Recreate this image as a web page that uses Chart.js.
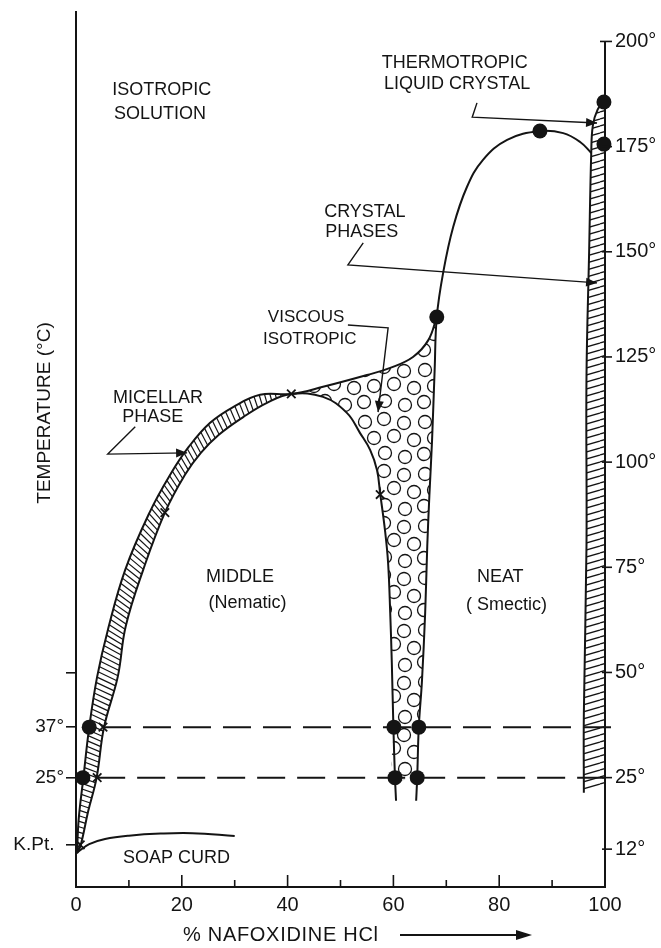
<!DOCTYPE html>
<html><head><meta charset="utf-8">
<script src="https://cdn.jsdelivr.net/npm/chart.js@4/dist/chart.umd.min.js"></script>
<style>html,body{margin:0;padding:0;background:#fff;}canvas{display:block;}</style>
</head><body>
<canvas id="c" width="661" height="948"></canvas>
<script>
// ---------------- DATA ----------------
// x = % nafoxidine HCl, y = temperature (°C)
const micellarOuter = [[0.2,7],[0.5,15],[1.4,25],[2.5,37],[4,49],[6,60],[9.3,74.4],[13.9,88],[17.8,97],[21.3,103.6],[25.3,109.3],[29.7,113.1],[34.8,116.0],[40.7,116.2]];
const micellarInner = [[0.2,7],[0.9,9],[2.3,17],[3.9,25],[5.3,37],[7.9,49],[9.4,61],[12.7,74.4],[16.8,88],[20.6,97],[23.6,102.2],[27.0,106.5],[31.6,110.7],[36.1,114.1],[40.7,116.2]];
const viscousLeft   = [[40.7,116.2],[46.7,115.5],[51.2,111.7],[53.7,106.9],[55.6,102.9],[56.9,98.1],[57.5,92.5],[58.4,83.9],[59.0,76.0],[59.4,64.1],[59.7,52.3],[60.0,37],[60.3,25],[60.5,19.5]];
const viscousUpper  = [[40.7,116.2],[46.7,117.9],[55.0,120.7],[59.4,122.4],[63.7,125.0],[66.6,129],[68.2,134.5]];
const neatRight     = [[64.3,19.5],[64.5,25],[64.8,37],[65.4,48],[66.0,64],[66.4,80],[66.8,92],[67.3,105],[67.8,122],[68.2,134.5]];
const neatTop       = [[68.2,134.5],[69.4,145],[71.3,155.9],[73.9,165.4],[76.9,171.8],[81.5,176.6],[87.7,178.7],[92.1,178.2],[95.3,176.1],[97.4,173.5]];
const bandLeft      = [[96,21.4],[96.0,40],[96.5,80],[96.5,120],[97.0,150],[97.4,173.5],[97.7,180],[98.6,183.8],[99.8,185.6]];
const bandRight     = [[100,185.6],[100,22.8]];
const soapCurd      = [[0.3,7.3],[2.5,9.2],[5.5,10.4],[10,11.2],[16,11.7],[22,11.8],[30,11.1]];
const line37        = [[5.1,37],[101.5,37]];
const line25        = [[4,25],[100,25]];
const dataPoints    = [[1.3,25],[2.5,37],[60.1,37],[64.8,37],[60.3,25],[64.5,25],[68.2,134.5],[87.7,178.7],[99.8,185.6],[99.8,175.6]];
const crossPoints   = [[0.8,9],[4,25],[5.1,37],[16.8,88],[40.7,116.2],[57.5,92.3]];

const xTickValues     = [0,20,40,60,80,100];
const xTickLabels     = ['0','20','40','60','80','100'];
const xMinorTicks     = [10,30,50,70,90];
const xMajorInner     = [20,40,60,80];
const leftTickValues  = [50,37,25,9];
const leftTickLabels  = ['','37°','25°','K.Pt.\u2002'];
const rightTickValues = [200,175,150,125,100,75,50,25,8];
const rightTickLabels = ['200°','175°','150°','125°','100°','75°','50°','25°','12°'];

const xTitle = '% NAFOXIDINE HCl';
const yTitle = 'TEMPERATURE (°C)';

// region / annotation text (data coordinates)
const regionLabels = [
  {t:'ISOTROPIC', x:16.2, y:188.4}, {t:'SOLUTION', x:15.9, y:182.7},
  {t:'THERMOTROPIC', x:57.8, y:194.9, a:'left'}, {t:'LIQUID CRYSTAL', x:58.2, y:189.9, a:'left'},
  {t:'CRYSTAL', x:54.6, y:159.5}, {t:'PHASES', x:54.0, y:154.7},
  {t:'MICELLAR', x:15.5, y:115.2}, {t:'PHASE', x:14.5, y:110.7},
  {t:'VISCOUS', x:43.5, y:134.5, s:17}, {t:'ISOTROPIC', x:44.2, y:129.3, s:17},
  {t:'MIDDLE', x:31.0, y:72.7}, {t:'(Nematic)', x:32.4, y:66.5},
  {t:'NEAT', x:80.2, y:72.7}, {t:'( Smectic)', x:81.4, y:66.0},
  {t:'SOAP CURD', x:19.0, y:6.0}
];
const leaders = [
  [[75.8,185.4],[74.9,182.0],[98.5,180.6]],
  [[54.3,152.1],[51.4,146.9],[98.5,142.6]],
  [[11.2,108.4],[6.0,101.9],[21.0,102.2]],
  [[51.4,132.6],[59.0,131.9],[57.1,111.9]]
];

// ---------------- helpers ----------------
const INK = '#141414';
const pts = a => a.map(([x,y]) => ({x, y}));
// join point lists; duplicated joint points keep sharp corners in a smoothed polygon
function polygon(...lists) {
  const out = [];
  lists.forEach(l => l.forEach(p => out.push(p)));
  return pts(out);
}
function hatchPattern() {
  const W = 24, H = 7, c = document.createElement('canvas');
  c.width = W; c.height = H;
  const g = c.getContext('2d');
  g.strokeStyle = INK; g.lineWidth = 1.3;
  for (let k = -1; k <= 2; k++) { g.beginPath(); g.moveTo(0, k*H); g.lineTo(W, k*H - H); g.stroke(); }
  return g.createPattern(c, 'repeat');
}
function circlePattern() {
  const W = 60, H = 52, c = document.createElement('canvas');
  c.width = W; c.height = H;
  const g = c.getContext('2d');
  g.strokeStyle = INK; g.lineWidth = 1.3;
  const centers = [[5,6],[24,3],[44,7],[14,22],[34,20],[54,24],[4,38],[25,37],[45,41]];
  centers.forEach(([cx,cy]) => {
    for (const dx of [-W,0,W]) for (const dy of [-H,0,H]) {
      g.beginPath(); g.arc(cx+dx, cy+dy, 6.5, 0, Math.PI*2); g.stroke();
    }
  });
  return g.createPattern(c, 'repeat');
}

const lineDs = (data, extra) => Object.assign({
  data, borderColor: INK, borderWidth: 2, pointRadius: 0, pointHoverRadius: 0,
  fill: false, tension: 0.4, clip: false
}, extra);

const middleBoundary = pts([...micellarInner, ...viscousLeft.slice(1)]);
const outerBoundary  = pts([...micellarOuter, ...viscousUpper.slice(1)]);
const neatBoundary   = pts([...neatRight, ...neatTop.slice(1)]);
const viscousIdx25 = viscousLeft.findIndex(p => p[1] === 25);
const viscousPoly = polygon(
  viscousLeft.slice(0, viscousIdx25 + 1),
  [neatRight[1]],
  neatRight.slice(1),
  [neatRight[neatRight.length-1]],
  viscousUpper.slice().reverse()
);
const bandPoly = polygon(bandLeft, [bandLeft[bandLeft.length-1]], bandRight, [bandRight[bandRight.length-1]]);

// ---------------- plugin: hatching, annotations, axis extras ----------------
function sampleCurve(elems) {
  const out = [];
  for (let i = 0; i < elems.length - 1; i++) {
    const a = elems[i], b = elems[i+1];
    const c1x = a.cp2x ?? a.x, c1y = a.cp2y ?? a.y, c2x = b.cp1x ?? b.x, c2y = b.cp1y ?? b.y;
    for (let k = 0; k < 24; k++) {
      const t = k/24, u = 1-t;
      out.push({x: u*u*u*a.x + 3*u*u*t*c1x + 3*u*t*t*c2x + t*t*t*b.x,
                y: u*u*u*a.y + 3*u*u*t*c1y + 3*u*t*t*c2y + t*t*t*b.y});
    }
  }
  const l = elems[elems.length-1]; out.push({x:l.x, y:l.y});
  const len = [0];
  for (let i = 1; i < out.length; i++) len.push(len[i-1] + Math.hypot(out[i].x-out[i-1].x, out[i].y-out[i-1].y));
  return {out, len, total: len[len.length-1]};
}
function atFrac(c, f) {
  const target = f * c.total;
  let i = 1;
  while (i < c.len.length - 1 && c.len[i] < target) i++;
  const s = (target - c.len[i-1]) / ((c.len[i] - c.len[i-1]) || 1);
  return {x: c.out[i-1].x + s*(c.out[i].x - c.out[i-1].x), y: c.out[i-1].y + s*(c.out[i].y - c.out[i-1].y)};
}
function arrowHead(ctx, x0, y0, x1, y1, len, half) {
  const a = Math.atan2(y1-y0, x1-x0), ca = Math.cos(a), sa = Math.sin(a);
  ctx.beginPath(); ctx.moveTo(x1, y1);
  ctx.lineTo(x1 - len*ca + half*sa, y1 - len*sa - half*ca);
  ctx.lineTo(x1 - len*ca - half*sa, y1 - len*sa + half*ca);
  ctx.closePath(); ctx.fill();
}

const phasePlugin = {
  id: 'phase',
  beforeDatasetsDraw(chart) {
    const ctx = chart.ctx;
    const outerEl = chart.getDatasetMeta(IDX_OUTER).data.slice(0, micellarOuter.length);
    const innerEl = chart.getDatasetMeta(IDX_MIDDLE).data.slice(0, micellarInner.length);
    const o = sampleCurve(outerEl), inn = sampleCurve(innerEl);
    const n = Math.round(o.total / 5.4);
    ctx.save();
    ctx.strokeStyle = INK; ctx.lineWidth = 1.2;
    for (let i = 1; i < n; i++) {
      const p = atFrac(o, i/n), q = atFrac(inn, i/n);
      ctx.beginPath(); ctx.moveTo(p.x, p.y); ctx.lineTo(q.x, q.y); ctx.stroke();
    }
    ctx.restore();
  },
  afterDatasetsDraw(chart) {
    const ctx = chart.ctx, xs = chart.scales.x, ys = chart.scales.y, area = chart.chartArea;
    const px = v => xs.getPixelForValue(v), py = v => ys.getPixelForValue(v);
    ctx.save();
    ctx.fillStyle = INK; ctx.strokeStyle = INK;
    // region labels
    ctx.textBaseline = 'middle';
    regionLabels.forEach(l => {
      ctx.font = (l.s || 18) + "px 'Liberation Sans', Arial, sans-serif";
      ctx.textAlign = l.a || 'center';
      ctx.fillText(l.t, px(l.x), py(l.y));
    });
    // leader lines with arrows
    ctx.lineWidth = 1.4;
    leaders.forEach(L => {
      ctx.beginPath();
      L.forEach(([x,y], i) => i ? ctx.lineTo(px(x), py(y)) : ctx.moveTo(px(x), py(y)));
      ctx.stroke();
      const a = L[L.length-2], b = L[L.length-1];
      arrowHead(ctx, px(a[0]), py(a[1]), px(b[0]), py(b[1]), 11, 4.5);
    });
    // right axis line (from 200° down) and crossing ticks
    const rx = px(100);
    ctx.lineWidth = 2;
    ctx.beginPath(); ctx.moveTo(rx, py(200)); ctx.lineTo(rx, area.bottom); ctx.stroke();
    ctx.lineWidth = 1.6;
    rightTickValues.forEach(v => {
      const y = py(v);
      ctx.beginPath(); ctx.moveTo(rx - (v === 200 ? 5 : 3), y); ctx.lineTo(rx + 7, y); ctx.stroke();
    });
    // bottom axis inward ticks
    xMajorInner.forEach(v => { ctx.beginPath(); ctx.moveTo(px(v), area.bottom); ctx.lineTo(px(v), area.bottom - 12); ctx.stroke(); });
    xMinorTicks.forEach(v => { ctx.beginPath(); ctx.moveTo(px(v), area.bottom); ctx.lineTo(px(v), area.bottom - 7); ctx.stroke(); });
    // axis titles
    ctx.font = "19px 'Liberation Sans', Arial, sans-serif";
    ctx.textAlign = 'center';
    ctx.save();
    ctx.translate(45, 413); ctx.rotate(-Math.PI/2);
    ctx.fillText(yTitle, 0, 0);
    ctx.restore();
    ctx.font = "20px 'Liberation Sans', Arial, sans-serif";
    ctx.textAlign = 'left';
    try { ctx.letterSpacing = '0.7px'; } catch (e) {}
    ctx.fillText(xTitle, 183, 935);
    try { ctx.letterSpacing = '0px'; } catch (e) {}
    ctx.lineWidth = 2;
    ctx.beginPath(); ctx.moveTo(400, 935); ctx.lineTo(520, 935); ctx.stroke();
    arrowHead(ctx, 400, 935, 532, 935, 16, 5);
    ctx.restore();
  }
};

// ---------------- chart ----------------
const datasets = [
  {data: pts(dataPoints), showLine: false, pointRadius: 7.5, pointHoverRadius: 7.5, pointBackgroundColor: INK, pointBorderColor: INK, pointBorderWidth: 0, clip: false},
  {data: pts(crossPoints), showLine: false, pointStyle: 'crossRot', pointRadius: 6, pointHoverRadius: 6, pointBorderColor: INK, pointBorderWidth: 1.8, clip: false},
  lineDs(outerBoundary),
  lineDs(middleBoundary),
  lineDs(neatBoundary),
  lineDs(pts(bandLeft)),
  lineDs(pts(soapCurd)),
  lineDs(pts(line37), {borderDash: [28, 12], tension: 0}),
  lineDs(pts(line25), {borderDash: [28, 12], tension: 0}),
  lineDs(viscousPoly, {fill: 'shape', borderColor: 'rgba(0,0,0,0)', backgroundColor: circlePattern()}),
  lineDs(bandPoly, {fill: 'shape', borderColor: 'rgba(0,0,0,0)', backgroundColor: hatchPattern(), tension: 0.3})
];
const IDX_OUTER = 2, IDX_MIDDLE = 3;

Chart.defaults.font.family = "'Liberation Sans', Arial, Helvetica, sans-serif";
Chart.defaults.color = INK;

new Chart(document.getElementById('c'), {
  type: 'line',
  data: {datasets},
  options: {
    responsive: false, animation: false, devicePixelRatio: 1,
    layout: {padding: {top: 12, left: 0, right: 0, bottom: 0}},
    plugins: {legend: {display: false}, tooltip: {enabled: false}},
    events: [],
    scales: {
      x: {
        type: 'linear', position: 'bottom', min: 0, max: 100,
        afterBuildTicks: s => { s.ticks = xTickValues.map(v => ({value: v})); },
        ticks: {font: {size: 20}, padding: 6, autoSkip: false, maxRotation: 0,
                callback: v => xTickLabels[xTickValues.indexOf(v)]},
        grid: {display: false, drawTicks: false},
        border: {display: true, color: INK, width: 2},
        afterFit: s => { s.height = 61; s.paddingLeft = 0; s.paddingRight = 0; }
      },
      y: {
        type: 'linear', position: 'left', min: -1, max: 207,
        afterBuildTicks: s => { s.ticks = leftTickValues.map(v => ({value: v})); },
        ticks: {font: {size: 19}, padding: 2, autoSkip: false,
                callback: v => leftTickLabels[leftTickValues.indexOf(v)]},
        grid: {display: true, drawOnChartArea: false, drawTicks: true, tickLength: 10, color: INK, lineWidth: 1.6},
        border: {display: true, color: INK, width: 2},
        afterFit: s => { s.width = 76; s.paddingTop = 0; s.paddingBottom = 0; }
      },
      y2: {
        type: 'linear', position: 'right', min: -1, max: 207,
        afterBuildTicks: s => { s.ticks = rightTickValues.map(v => ({value: v})); },
        ticks: {font: {size: 20}, padding: 10, autoSkip: false,
                callback: v => rightTickLabels[rightTickValues.indexOf(v)]},
        grid: {display: false, drawTicks: false},
        border: {display: false},
        afterFit: s => { s.width = 56; s.paddingTop = 0; s.paddingBottom = 0; }
      }
    }
  },
  plugins: [phasePlugin]
});
</script>
</body></html>
